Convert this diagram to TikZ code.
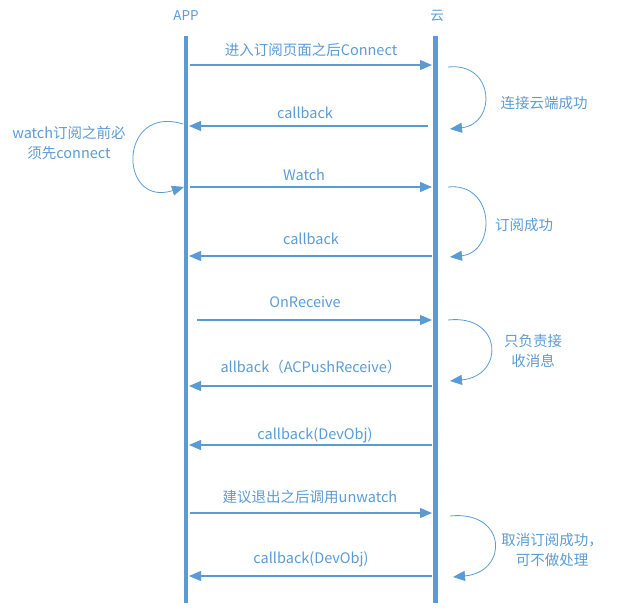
\documentclass[tikz,border=0pt]{standalone}
\usepackage{fontspec}
\setmainfont{Noto Sans CJK SC}
\usetikzlibrary{arrows.meta}
\definecolor{seqblue}{HTML}{5B9BD5}
\definecolor{txtblue}{HTML}{5B9BD5}
\begin{document}
\begin{tikzpicture}[x=1pt,y=-1pt,
  lifeline/.style={draw=seqblue, line width=4.5pt},
  msg/.style={draw=seqblue, line width=1.3pt, -{Triangle[length=12pt,width=10pt]}},
  selfloop/.style={draw=seqblue, line width=0.8pt, -{Triangle[length=12pt,width=10pt]}},
  head/.style={text=txtblue, font=\fontsize{13.5}{16}\selectfont, inner sep=0pt},
  lbl/.style={text=txtblue, font=\fontsize{14.5}{20}\selectfont, inner sep=0pt},
  note/.style={lbl, align=center},
]
\useasboundingbox (0,0) rectangle (619,611);

% lifelines
\coordinate (appTop) at (186,36);
\coordinate (appBot) at (186,603);
\coordinate (cloudTop) at (435.5,36);
\coordinate (cloudBot) at (435.5,603);
\draw[lifeline] (appTop) -- (appBot);
\draw[lifeline] (cloudTop) -- (cloudBot);
\node[head] (appHead) at (186,16) {APP};
\node[head] (cloudHead) at (437,16) {云};

% message end points
\coordinate (m1s) at (190,65);  \coordinate (m1e) at (432,65);
\coordinate (m2s) at (428,126); \coordinate (m2e) at (189,126);
\coordinate (m3s) at (190,187); \coordinate (m3e) at (432,187);
\coordinate (m4s) at (432,256); \coordinate (m4e) at (189,256);
\coordinate (m5s) at (197,320); \coordinate (m5e) at (432,320);
\coordinate (m6s) at (432,386); \coordinate (m6e) at (189,386);
\coordinate (m7s) at (432,445); \coordinate (m7e) at (189,445);
\coordinate (m8s) at (190,513); \coordinate (m8e) at (432,513);
\coordinate (m9s) at (432,576); \coordinate (m9e) at (189,576);

% messages
\draw[msg] (m1s) -- (m1e);
\draw[msg] (m2s) -- (m2e);
\draw[msg] (m3s) -- (m3e);
\draw[msg] (m4s) -- (m4e);
\draw[msg] (m5s) -- (m5e);
\draw[msg] (m6s) -- (m6e);
\draw[msg] (m7s) -- (m7e);
\draw[msg] (m8s) -- (m8e);
\draw[msg] (m9s) -- (m9e);

% message labels
\node[lbl] (t1) at (311,50) {进入订阅页面之后Connect};
\node[lbl] (t2) at (305,113) {callback};
\node[lbl] (t3) at (304,175) {Watch};
\node[lbl] (t4) at (311,239) {callback};
\node[lbl] (t5) at (305,302) {OnReceive};
\node[lbl] (t6) at (311,367) {allback（ACPushReceive）};
\node[lbl] (t7) at (315,435) {callback(DevObj)};
\node[lbl] (t8) at (310,497) {建议退出之后调用unwatch};
\node[lbl] (t9) at (311,559) {callback(DevObj)};

% self loops on the cloud side
\coordinate (l1s) at (448,67);  \coordinate (l1e) at (450,129);
\coordinate (l2s) at (448,187); \coordinate (l2e) at (450,257);
\coordinate (l3s) at (448,320); \coordinate (l3e) at (450,381);
\coordinate (l4s) at (450,516); \coordinate (l4e) at (453,577);
\draw[selfloop] (l1s) .. controls (495,62) and (497,124) .. (l1e);
\draw[selfloop] (l2s) .. controls (495,182) and (497,252) .. (l2e);
\draw[selfloop] (l3s) .. controls (503,314) and (505,376) .. (l3e);
\draw[selfloop] (l4s) .. controls (507,510) and (509,572) .. (l4e);

% self loop on the app side
\coordinate (l0s) at (183,124); \coordinate (l0e) at (184,187);
\draw[selfloop] (l0s) .. controls (118,104) and (118,208) .. (l0e);

% loop notes
\node[note] (n0) at (69,143) {watch订阅之前必\\须先connect};
\node[note] (n1) at (544,103) {连接云端成功};
\node[note] (n2) at (524,225) {订阅成功};
\node[note] (n3) at (533,351) {只负责接\\收消息};
\node[note] (n4) at (552,550) {取消订阅成功，\\可不做处理};
\end{tikzpicture}
\end{document}
